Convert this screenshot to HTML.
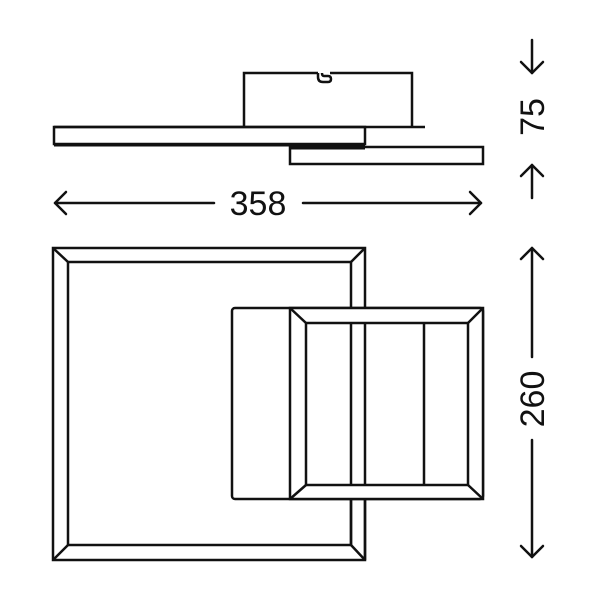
<!DOCTYPE html>
<html><head><meta charset="utf-8"><style>html,body{margin:0;padding:0;background:#fff}svg{display:block}</style></head>
<body>
<svg width="600" height="600" viewBox="0 0 600 600" xmlns="http://www.w3.org/2000/svg">
<g fill="none" stroke="#111" stroke-width="2.5" stroke-linejoin="miter">
<!-- top view -->
<path d="M244,127 V73 H318 M330,73 H412 V127"/>
<path d="M318,73 v4 q0,5 5,5 h5 q3,0 3,-3 q0,-3 -3,-3 h-4 q-2,0 -2,-3"/>
<line x1="54" y1="127" x2="425" y2="127"/>
<rect x="54" y="127" width="311" height="17"/>
<line x1="54" y1="145" x2="365" y2="145" stroke-width="3"/>
<rect x="290" y="147" width="193" height="17"/>
<line x1="290" y1="148" x2="365" y2="148" stroke-width="3"/>
<!-- big square -->
<rect x="53" y="248" width="312" height="312"/>
<rect x="68" y="262" width="283" height="283"/>
<line x1="53" y1="248" x2="68" y2="262"/><line x1="365" y1="248" x2="351" y2="262"/>
<line x1="53" y1="560" x2="68" y2="545"/><line x1="365" y1="560" x2="351" y2="545"/>
<!-- middle -->
<rect x="232" y="308" width="251" height="191" rx="3" fill="#fff"/>
<rect x="290" y="308" width="193" height="191" fill="#fff"/>
<rect x="306" y="323" width="162" height="162"/>
<line x1="290" y1="308" x2="306" y2="323"/><line x1="483" y1="308" x2="468" y2="323"/>
<line x1="290" y1="499" x2="306" y2="485"/><line x1="483" y1="499" x2="468" y2="485"/>
<line x1="351" y1="323" x2="351" y2="485"/><line x1="365" y1="323" x2="365" y2="485"/>
<line x1="424" y1="323" x2="424" y2="485"/>
<line x1="351" y1="499" x2="351" y2="545"/><line x1="365" y1="499" x2="365" y2="560"/>
</g>
<g fill="none" stroke="#111" stroke-width="2.5" stroke-linecap="round" stroke-linejoin="round">
<!-- 358 -->
<line x1="55" y1="203" x2="214" y2="203"/><polyline points="66,192 55,203 66,214"/>
<line x1="303" y1="203" x2="481" y2="203"/><polyline points="470,192 481,203 470,214"/>
<!-- 75 -->
<line x1="532" y1="40" x2="532" y2="73"/><polyline points="521,62 532,73 543,62"/>
<line x1="532" y1="165" x2="532" y2="198"/><polyline points="521,176 532,165 543,176"/>
<!-- 260 -->
<line x1="532" y1="248" x2="532" y2="357"/><polyline points="521,259 532,248 543,259"/>
<line x1="532" y1="440" x2="532" y2="557"/><polyline points="521,546 532,557 543,546"/>
</g>
<g font-family="Liberation Sans, Arial, sans-serif" font-size="34" fill="#111" text-anchor="middle">
<text x="258" y="215">358</text>
<text transform="translate(544,117) rotate(-90)">75</text>
<text transform="translate(544,399) rotate(-90)">260</text>
</g>
</svg>
</body></html>
